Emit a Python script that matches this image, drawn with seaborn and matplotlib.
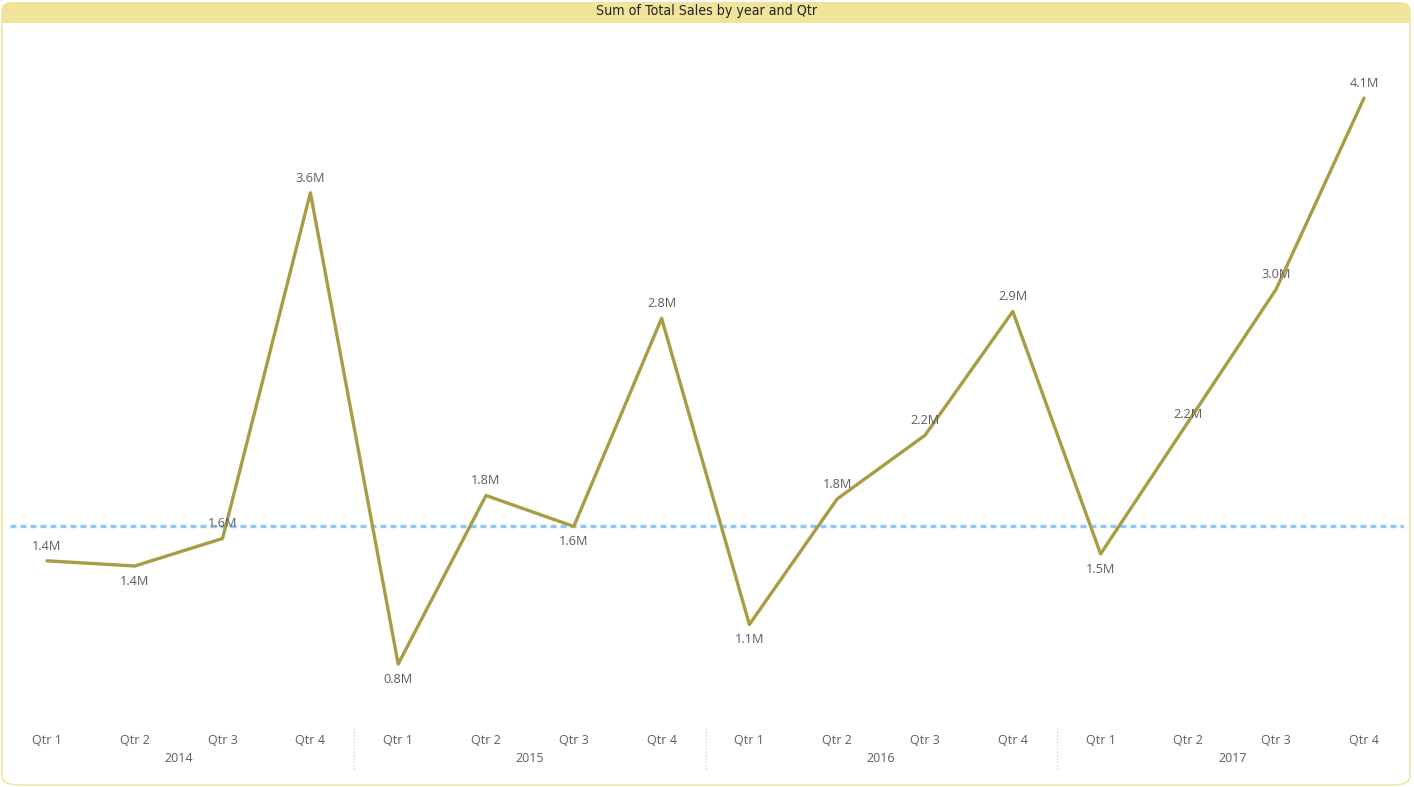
import matplotlib
matplotlib.use("Agg")
import matplotlib.pyplot as plt
import seaborn as sns
import pandas as pd
from matplotlib.patches import FancyBboxPatch, Rectangle

# ---- data ----
years = ["2014", "2015", "2016", "2017"]
quarters = ["Qtr 1", "Qtr 2", "Qtr 3", "Qtr 4"]
sales_2014 = [1.43, 1.40, 1.56, 3.57]
sales_2015 = [0.83, 1.81, 1.63, 2.84]
sales_2016 = [1.06, 1.79, 2.16, 2.88]
sales_2017 = [1.47, 2.24, 3.01, 4.12]
label_pos = ["above", "below", "above", "above",
             "below", "above", "below", "above",
             "below", "above", "above", "above",
             "below", "mid", "above", "above"]
ref_value = 1.63
title = "Sum of Total Sales by year and Qtr"

values = sales_2014 + sales_2015 + sales_2016 + sales_2017
df = pd.DataFrame({
    "year": [y for y in years for _ in quarters],
    "qtr": quarters * len(years),
    "sales": values,
})
df["idx"] = range(len(df))

sns.set_theme(style="white")
plt.rcParams["font.family"] = ["Open Sans", "DejaVu Sans"]

W, H = 1414, 787
fig = plt.figure(figsize=(W / 100, H / 100), dpi=100)
fig.patch.set_facecolor("white")

# card border and title bar
card = FancyBboxPatch((2 / W, 2 / H), (W - 6) / W, (H - 5) / H,
                      boxstyle="round,pad=0,rounding_size=0.012",
                      transform=fig.transFigure, facecolor="none",
                      edgecolor="#F1E6A6", linewidth=1.2, zorder=-2)
fig.patches.append(card)
bar = FancyBboxPatch((2 / W, (H - 23) / H), (W - 6) / W, 21 / H,
                     boxstyle="round,pad=0,rounding_size=0.008",
                     transform=fig.transFigure, facecolor="#F0E39A",
                     edgecolor="none", zorder=-1)
fig.patches.append(bar)
fig.patches.append(Rectangle((2 / W, (H - 23) / H), (W - 6) / W, 10 / H,
                             transform=fig.transFigure, facecolor="#F0E39A",
                             edgecolor="none", zorder=-1))
fig.text(0.5, (H - 11.5) / H, title, ha="center", va="center", fontsize=10.2,
         color="#252423", family=["DejaVu Sans"], fontstretch="condensed")

# axes placement
ax_left, ax_right, ax_top, ax_bot = 10, 1404, 30, 710
ax = fig.add_axes([ax_left / W, 1 - ax_bot / H, (ax_right - ax_left) / W,
                   (ax_bot - ax_top) / H])
ax.set_facecolor("none")
ax.set_zorder(2)

sns.lineplot(data=df, x="idx", y="sales", ax=ax, color="#A89D45",
             linewidth=2.4, legend=False, zorder=3)
ax.axhline(ref_value, color="#8CC8F4", linewidth=2.4,
           linestyle=(0, (1.8, 1.2)), zorder=2)

for i, v in enumerate(values):
    pos = label_pos[i]
    dy = {"above": 10.5, "below": -11, "mid": 5}[pos]
    ax.annotate(f"{v:.1f}M", (i, v), xytext=(0, dy), textcoords="offset points",
                ha="center", va="center", fontsize=9.2, color="#605E5C", zorder=4)

step = 87.8
ax.set_xlim(-(47 - ax_left) / step, 15 + (ax_right - 1364) / step)
ax.set_ylim((806.8 - ax_bot) / 172, (806.8 - ax_top) / 172)
ax.set_xticks([])
ax.set_yticks([])
for s in ax.spines.values():
    s.set_visible(False)
ax.set_xlabel("")
ax.set_ylabel("")

# category axis labels
def fy(py):
    return 1 - py / H
for i in range(len(values)):
    xf = (ax_left + (i - ax.get_xlim()[0]) * step) / W
    fig.text(xf, fy(740), df["qtr"][i], ha="center", va="center",
             fontsize=9, color="#605E5C")
for k, y in enumerate(years):
    xc = (ax_left + (4 * k + 1.5 - ax.get_xlim()[0]) * step) / W
    fig.text(xc, fy(758), y, ha="center", va="center", fontsize=9,
             color="#605E5C")
    if k > 0:
        xs = (ax_left + (4 * k - 0.5 - ax.get_xlim()[0]) * step) / W
        fig.lines.append(plt.Line2D([xs, xs], [fy(728), fy(770)],
                                    transform=fig.transFigure,
                                    color="#C8C6C4", linewidth=0.8,
                                    linestyle=(0, (1, 2))))

fig.savefig("out.png", dpi=100)
